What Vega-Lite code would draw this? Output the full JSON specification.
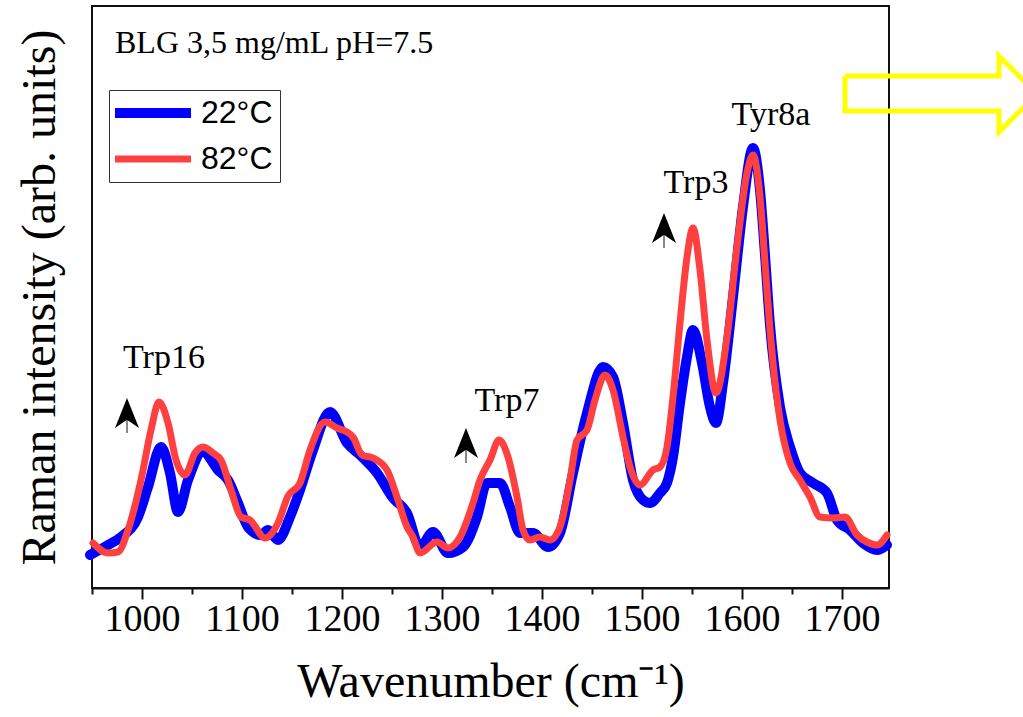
{
  "$schema": "https://vega.github.io/schema/vega-lite/v6.json",
  "width": 797,
  "height": 582,
  "autosize": {"type": "none"},
  "padding": {"left": 92, "top": 6, "right": 134, "bottom": 129},
  "background": "#ffffff",
  "config": {
    "font": "Liberation Serif",
    "view": {"stroke": "#111111", "strokeWidth": 2}
  },
  "datasets": {
    "spec": [
      {"wn": 948, "v": 33, "s": "22°C"},
      {"wn": 966, "v": 43, "s": "22°C"},
      {"wn": 979, "v": 51, "s": "22°C"},
      {"wn": 996, "v": 71, "s": "22°C"},
      {"wn": 1006, "v": 101, "s": "22°C"},
      {"wn": 1019, "v": 141, "s": "22°C"},
      {"wn": 1028, "v": 115, "s": "22°C"},
      {"wn": 1036, "v": 76, "s": "22°C"},
      {"wn": 1046, "v": 108, "s": "22°C"},
      {"wn": 1061, "v": 136, "s": "22°C"},
      {"wn": 1076, "v": 118, "s": "22°C"},
      {"wn": 1086, "v": 108, "s": "22°C"},
      {"wn": 1096, "v": 85, "s": "22°C"},
      {"wn": 1106, "v": 61, "s": "22°C"},
      {"wn": 1119, "v": 53, "s": "22°C"},
      {"wn": 1126, "v": 58, "s": "22°C"},
      {"wn": 1136, "v": 48, "s": "22°C"},
      {"wn": 1148, "v": 71, "s": "22°C"},
      {"wn": 1158, "v": 98, "s": "22°C"},
      {"wn": 1171, "v": 138, "s": "22°C"},
      {"wn": 1188, "v": 176, "s": "22°C"},
      {"wn": 1205, "v": 145, "s": "22°C"},
      {"wn": 1218, "v": 133, "s": "22°C"},
      {"wn": 1235, "v": 115, "s": "22°C"},
      {"wn": 1251, "v": 90, "s": "22°C"},
      {"wn": 1265, "v": 75, "s": "22°C"},
      {"wn": 1278, "v": 41, "s": "22°C"},
      {"wn": 1291, "v": 56, "s": "22°C"},
      {"wn": 1306, "v": 35, "s": "22°C"},
      {"wn": 1321, "v": 41, "s": "22°C"},
      {"wn": 1335, "v": 71, "s": "22°C"},
      {"wn": 1345, "v": 105, "s": "22°C"},
      {"wn": 1358, "v": 105, "s": "22°C"},
      {"wn": 1368, "v": 81, "s": "22°C"},
      {"wn": 1378, "v": 55, "s": "22°C"},
      {"wn": 1391, "v": 55, "s": "22°C"},
      {"wn": 1406, "v": 41, "s": "22°C"},
      {"wn": 1418, "v": 55, "s": "22°C"},
      {"wn": 1431, "v": 115, "s": "22°C"},
      {"wn": 1445, "v": 175, "s": "22°C"},
      {"wn": 1461, "v": 221, "s": "22°C"},
      {"wn": 1471, "v": 211, "s": "22°C"},
      {"wn": 1481, "v": 165, "s": "22°C"},
      {"wn": 1491, "v": 108, "s": "22°C"},
      {"wn": 1501, "v": 88, "s": "22°C"},
      {"wn": 1508, "v": 85, "s": "22°C"},
      {"wn": 1518, "v": 95, "s": "22°C"},
      {"wn": 1525, "v": 105, "s": "22°C"},
      {"wn": 1531, "v": 131, "s": "22°C"},
      {"wn": 1538, "v": 185, "s": "22°C"},
      {"wn": 1545, "v": 231, "s": "22°C"},
      {"wn": 1551, "v": 258, "s": "22°C"},
      {"wn": 1560, "v": 225, "s": "22°C"},
      {"wn": 1568, "v": 181, "s": "22°C"},
      {"wn": 1574, "v": 165, "s": "22°C"},
      {"wn": 1581, "v": 205, "s": "22°C"},
      {"wn": 1591, "v": 291, "s": "22°C"},
      {"wn": 1601, "v": 381, "s": "22°C"},
      {"wn": 1611, "v": 440, "s": "22°C"},
      {"wn": 1618, "v": 398, "s": "22°C"},
      {"wn": 1623, "v": 333, "s": "22°C"},
      {"wn": 1628, "v": 263, "s": "22°C"},
      {"wn": 1638, "v": 181, "s": "22°C"},
      {"wn": 1648, "v": 141, "s": "22°C"},
      {"wn": 1658, "v": 115, "s": "22°C"},
      {"wn": 1671, "v": 105, "s": "22°C"},
      {"wn": 1685, "v": 95, "s": "22°C"},
      {"wn": 1695, "v": 68, "s": "22°C"},
      {"wn": 1708, "v": 58, "s": "22°C"},
      {"wn": 1721, "v": 45, "s": "22°C"},
      {"wn": 1735, "v": 38, "s": "22°C"},
      {"wn": 1745, "v": 43, "s": "22°C"},
      {"wn": 951, "v": 45, "s": "82°C"},
      {"wn": 966, "v": 35, "s": "82°C"},
      {"wn": 976, "v": 36, "s": "82°C"},
      {"wn": 986, "v": 58, "s": "82°C"},
      {"wn": 999, "v": 108, "s": "82°C"},
      {"wn": 1009, "v": 158, "s": "82°C"},
      {"wn": 1017, "v": 186, "s": "82°C"},
      {"wn": 1026, "v": 165, "s": "82°C"},
      {"wn": 1034, "v": 128, "s": "82°C"},
      {"wn": 1043, "v": 113, "s": "82°C"},
      {"wn": 1053, "v": 135, "s": "82°C"},
      {"wn": 1061, "v": 141, "s": "82°C"},
      {"wn": 1071, "v": 135, "s": "82°C"},
      {"wn": 1079, "v": 128, "s": "82°C"},
      {"wn": 1089, "v": 98, "s": "82°C"},
      {"wn": 1099, "v": 71, "s": "82°C"},
      {"wn": 1108, "v": 68, "s": "82°C"},
      {"wn": 1123, "v": 50, "s": "82°C"},
      {"wn": 1136, "v": 65, "s": "82°C"},
      {"wn": 1146, "v": 92, "s": "82°C"},
      {"wn": 1158, "v": 105, "s": "82°C"},
      {"wn": 1168, "v": 138, "s": "82°C"},
      {"wn": 1183, "v": 166, "s": "82°C"},
      {"wn": 1195, "v": 160, "s": "82°C"},
      {"wn": 1205, "v": 156, "s": "82°C"},
      {"wn": 1211, "v": 151, "s": "82°C"},
      {"wn": 1220, "v": 133, "s": "82°C"},
      {"wn": 1231, "v": 130, "s": "82°C"},
      {"wn": 1245, "v": 118, "s": "82°C"},
      {"wn": 1255, "v": 91, "s": "82°C"},
      {"wn": 1265, "v": 61, "s": "82°C"},
      {"wn": 1271, "v": 51, "s": "82°C"},
      {"wn": 1278, "v": 35, "s": "82°C"},
      {"wn": 1295, "v": 46, "s": "82°C"},
      {"wn": 1306, "v": 40, "s": "82°C"},
      {"wn": 1318, "v": 51, "s": "82°C"},
      {"wn": 1331, "v": 85, "s": "82°C"},
      {"wn": 1338, "v": 108, "s": "82°C"},
      {"wn": 1348, "v": 128, "s": "82°C"},
      {"wn": 1357, "v": 148, "s": "82°C"},
      {"wn": 1366, "v": 131, "s": "82°C"},
      {"wn": 1375, "v": 91, "s": "82°C"},
      {"wn": 1381, "v": 58, "s": "82°C"},
      {"wn": 1388, "v": 48, "s": "82°C"},
      {"wn": 1398, "v": 51, "s": "82°C"},
      {"wn": 1408, "v": 48, "s": "82°C"},
      {"wn": 1418, "v": 61, "s": "82°C"},
      {"wn": 1428, "v": 108, "s": "82°C"},
      {"wn": 1435, "v": 148, "s": "82°C"},
      {"wn": 1445, "v": 158, "s": "82°C"},
      {"wn": 1453, "v": 188, "s": "82°C"},
      {"wn": 1463, "v": 213, "s": "82°C"},
      {"wn": 1471, "v": 198, "s": "82°C"},
      {"wn": 1481, "v": 151, "s": "82°C"},
      {"wn": 1488, "v": 121, "s": "82°C"},
      {"wn": 1498, "v": 103, "s": "82°C"},
      {"wn": 1511, "v": 118, "s": "82°C"},
      {"wn": 1518, "v": 121, "s": "82°C"},
      {"wn": 1525, "v": 141, "s": "82°C"},
      {"wn": 1531, "v": 191, "s": "82°C"},
      {"wn": 1538, "v": 265, "s": "82°C"},
      {"wn": 1545, "v": 331, "s": "82°C"},
      {"wn": 1551, "v": 360, "s": "82°C"},
      {"wn": 1558, "v": 318, "s": "82°C"},
      {"wn": 1565, "v": 248, "s": "82°C"},
      {"wn": 1574, "v": 195, "s": "82°C"},
      {"wn": 1585, "v": 251, "s": "82°C"},
      {"wn": 1595, "v": 341, "s": "82°C"},
      {"wn": 1605, "v": 415, "s": "82°C"},
      {"wn": 1611, "v": 433, "s": "82°C"},
      {"wn": 1618, "v": 391, "s": "82°C"},
      {"wn": 1623, "v": 325, "s": "82°C"},
      {"wn": 1628, "v": 258, "s": "82°C"},
      {"wn": 1631, "v": 225, "s": "82°C"},
      {"wn": 1638, "v": 168, "s": "82°C"},
      {"wn": 1648, "v": 125, "s": "82°C"},
      {"wn": 1658, "v": 108, "s": "82°C"},
      {"wn": 1668, "v": 91, "s": "82°C"},
      {"wn": 1678, "v": 71, "s": "82°C"},
      {"wn": 1691, "v": 70, "s": "82°C"},
      {"wn": 1703, "v": 71, "s": "82°C"},
      {"wn": 1715, "v": 53, "s": "82°C"},
      {"wn": 1725, "v": 46, "s": "82°C"},
      {"wn": 1735, "v": 43, "s": "82°C"},
      {"wn": 1745, "v": 53, "s": "82°C"}
    ],
    "bigarrow": [
      {"o": 1, "wn": 1703, "v": 512},
      {"o": 2, "wn": 1857, "v": 512},
      {"o": 3, "wn": 1857, "v": 532},
      {"o": 4, "wn": 1895, "v": 494},
      {"o": 5, "wn": 1857, "v": 456},
      {"o": 6, "wn": 1857, "v": 477},
      {"o": 7, "wn": 1703, "v": 477},
      {"o": 8, "wn": 1703, "v": 512}
    ],
    "heads": [
      {"wn": 985, "v": 175, "v2": 155, "vs": 172},
      {"wn": 1324, "v": 145, "v2": 125, "vs": 142},
      {"wn": 1522, "v": 360, "v2": 340, "vs": 357}
    ],
    "labels": [
      {"wn": 1022, "v": 220, "t": "Trp16"},
      {"wn": 1365, "v": 177, "t": "Trp7"},
      {"wn": 1554, "v": 395, "t": "Trp3"},
      {"wn": 1629, "v": 463, "t": "Tyr8a"}
    ],
    "note": [
      {"wn": 973, "v": 535, "t": "BLG 3,5 mg/mL pH=7.5"}
    ]
  },
  "encoding": {
    "x": {
      "field": "wn",
      "type": "quantitative",
      "scale": {"domain": [950, 1747], "nice": false, "zero": false},
      "axis": {
        "values": [950, 1000, 1050, 1100, 1150, 1200, 1250, 1300, 1350, 1400, 1450, 1500, 1550, 1600, 1650, 1700],
        "format": "d",
        "labelExpr": "datum.value % 100 === 0 ? datum.label : ''",
        "tickSize": {"condition": {"test": "datum.value % 100 === 0", "value": 11}, "value": 6},
        "tickWidth": 2,
        "tickColor": "#111111",
        "domainColor": "#111111",
        "domainWidth": 2,
        "labelFont": "Liberation Serif",
        "labelFontSize": 38,
        "labelColor": "#000000",
        "labelPadding": 1,
        "labelOverlap": false,
        "labelFlush": false,
        "grid": false,
        "title": "Wavenumber (cm⁻¹)",
        "titleFont": "Liberation Serif",
        "titleFontSize": 48,
        "titleFontWeight": "normal",
        "titleColor": "#000000",
        "titlePadding": 20
      }
    },
    "y": {
      "field": "v",
      "type": "quantitative",
      "scale": {"domain": [0, 582], "nice": false, "zero": false},
      "axis": {
        "labels": false,
        "ticks": false,
        "domain": false,
        "grid": false,
        "title": "Raman intensity (arb. units)",
        "titleFont": "Liberation Serif",
        "titleFontSize": 48,
        "titleFontWeight": "normal",
        "titleColor": "#000000",
        "titlePadding": 28
      }
    }
  },
  "layer": [
    {
      "data": {"name": "bigarrow"},
      "mark": {"type": "line", "color": "#FFFF00", "strokeWidth": 5, "clip": false, "strokeJoin": "miter"},
      "encoding": {"order": {"field": "o", "type": "quantitative"}}
    },
    {
      "data": {"name": "spec"},
      "mark": {"type": "line", "interpolate": "monotone", "strokeCap": "round", "strokeJoin": "round"},
      "encoding": {
        "color": {
          "field": "s",
          "type": "nominal",
          "scale": {"domain": ["22°C", "82°C"], "range": ["#0000FF", "#FF4040"]},
          "legend": {
            "title": null,
            "orient": "none",
            "legendX": 17,
            "legendY": 84,
            "symbolType": "M-4,0L4,0",
            "symbolSize": 361,
            "symbolOffset": 21,
            "symbolStrokeWidth": 8,
            "labelFont": "Liberation Sans",
            "labelFontSize": 32,
            "labelColor": "#000000",
            "labelOffset": 32,
            "rowPadding": 10,
            "padding": 7,
            "strokeColor": "#333333",
            "fillColor": "#ffffff"
          }
        },
        "strokeWidth": {
          "field": "s",
          "type": "nominal",
          "scale": {"domain": ["22°C", "82°C"], "range": [10, 7]},
          "legend": null
        }
      }
    },
    {
      "data": {"name": "heads"},
      "mark": {"type": "rule", "color": "#888888", "strokeWidth": 2},
      "encoding": {"y": {"field": "vs", "type": "quantitative"}, "y2": {"field": "v2"}}
    },
    {
      "data": {"name": "heads"},
      "mark": {"type": "point", "shape": "M0,-1 L0.8,1 L0,0.45 L-0.8,1 Z", "filled": true, "color": "#000000", "opacity": 1, "size": 900}
    },
    {
      "data": {"name": "labels"},
      "mark": {"type": "text", "font": "Liberation Serif", "fontSize": 34, "align": "center", "baseline": "alphabetic", "color": "#000000"},
      "encoding": {"text": {"field": "t"}}
    },
    {
      "data": {"name": "note"},
      "mark": {"type": "text", "font": "Liberation Serif", "fontSize": 32, "align": "left", "baseline": "alphabetic", "color": "#000000"},
      "encoding": {"text": {"field": "t"}}
    }
  ]
}
